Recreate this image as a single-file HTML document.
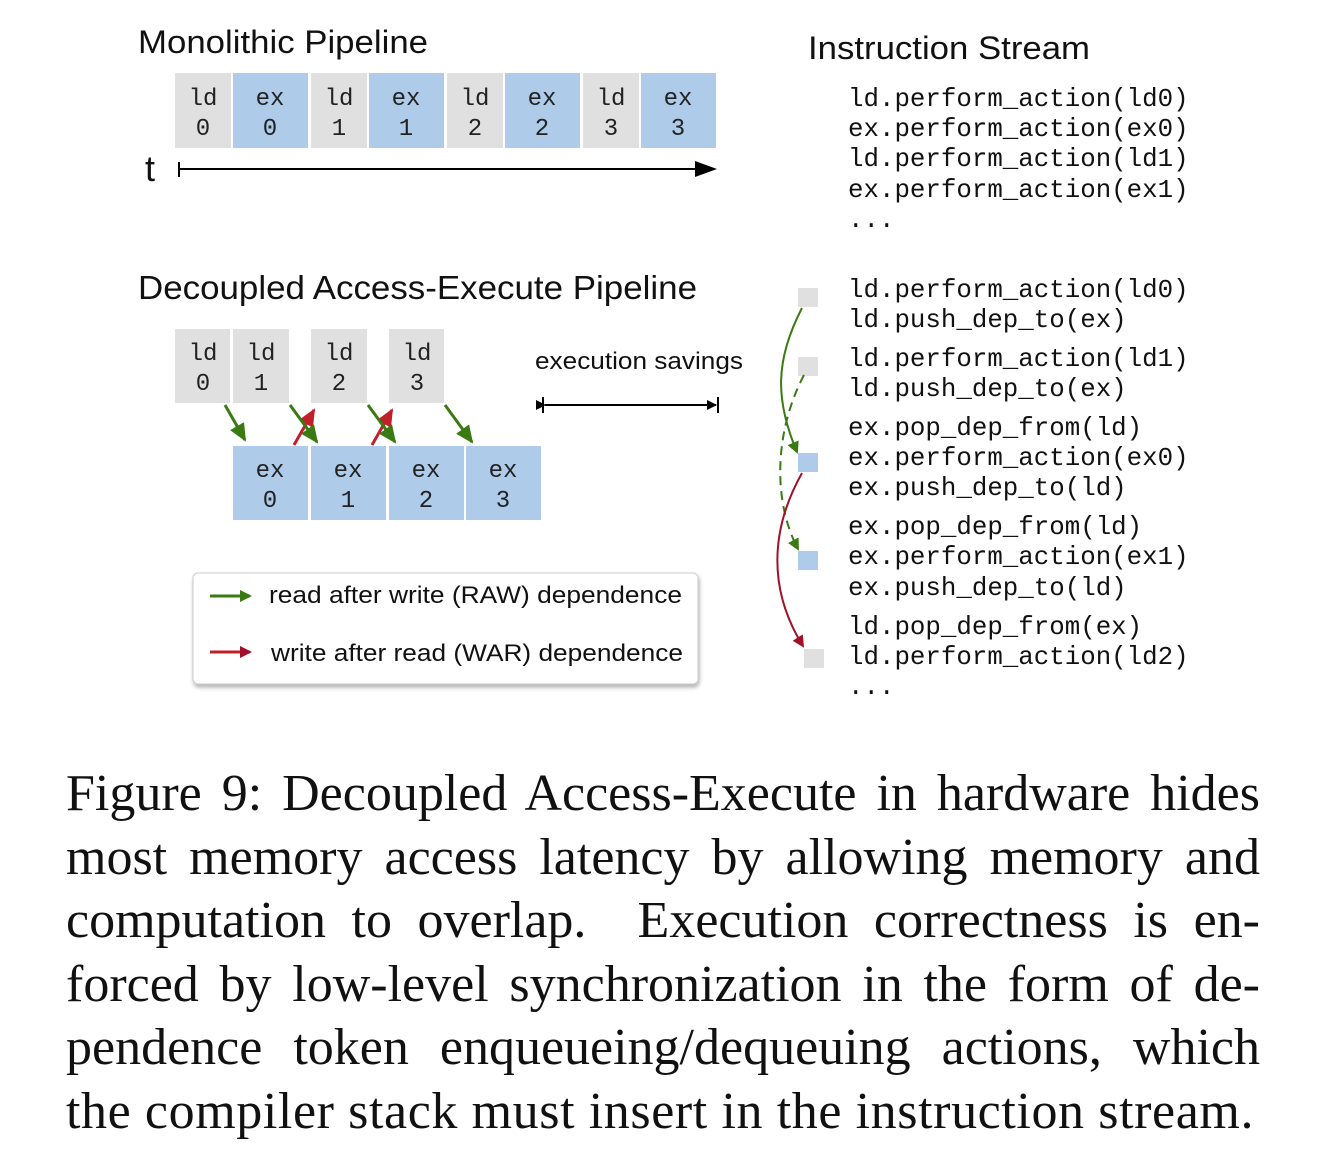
<!DOCTYPE html>
<html><head><meta charset="utf-8"><style>
body{margin:0;background:#fff;width:1328px;height:1152px;overflow:hidden}
svg{position:absolute;left:0;top:0}
.cap{position:absolute;left:66px;width:1194px;top:762px;font-family:"Liberation Serif",serif;font-size:52px;line-height:63.5px;color:#111}
.cap div{text-align:justify;text-align-last:justify;white-space:nowrap}
.cap div.l{text-align-last:left;letter-spacing:0.6px}
</style></head><body>
<svg width="1328" height="1152" xmlns="http://www.w3.org/2000/svg">
<defs>
<marker id="ab" markerWidth="10" markerHeight="10" refX="9" refY="5" orient="auto" markerUnits="userSpaceOnUse"><path d="M0,0 L10,5 L0,10z" fill="#000"/></marker>
<marker id="ag" markerWidth="18" markerHeight="16" refX="16" refY="8" orient="auto" markerUnits="userSpaceOnUse"><path d="M0,0 L18,8 L0,16z" fill="#3a7a12"/></marker>
<marker id="ar" markerWidth="18" markerHeight="16" refX="16" refY="8" orient="auto" markerUnits="userSpaceOnUse"><path d="M0,0 L18,8 L0,16z" fill="#c0202a"/></marker>
<marker id="ag2" markerWidth="12" markerHeight="12" refX="10" refY="6" orient="auto" markerUnits="userSpaceOnUse"><path d="M0,0 L12,6 L0,12z" fill="#3a7a12"/></marker>
<marker id="ar2" markerWidth="12" markerHeight="12" refX="10" refY="6" orient="auto" markerUnits="userSpaceOnUse"><path d="M0,0 L12,6 L0,12z" fill="#a01028"/></marker>
<filter id="sh" x="-5%" y="-10%" width="110%" height="130%"><feDropShadow dx="1" dy="3" stdDeviation="2" flood-color="#000" flood-opacity="0.3"/></filter>
</defs>
<g font-family="Liberation Sans, sans-serif" fill="#111">
<text x="138" y="53" font-size="32" textLength="290" lengthAdjust="spacingAndGlyphs">Monolithic Pipeline</text>
<text x="808" y="59" font-size="32" textLength="282" lengthAdjust="spacingAndGlyphs">Instruction Stream</text>
<text x="138" y="299" font-size="33" textLength="559" lengthAdjust="spacingAndGlyphs">Decoupled Access-Execute Pipeline</text>
<text x="535" y="369" font-size="24" textLength="208" lengthAdjust="spacingAndGlyphs">execution savings</text>
</g>
<g font-family="Liberation Mono, monospace" font-size="24" text-anchor="middle" fill="#222">
<rect x="175" y="73" width="56" height="75" fill="#e0e0e0"/><text x="203" y="105">ld</text><text x="203" y="135">0</text>
<rect x="233" y="73" width="75" height="75" fill="#aecbea"/><text x="270" y="105">ex</text><text x="270" y="135">0</text>
<rect x="311" y="73" width="56" height="75" fill="#e0e0e0"/><text x="339" y="105">ld</text><text x="339" y="135">1</text>
<rect x="369" y="73" width="75" height="75" fill="#aecbea"/><text x="406" y="105">ex</text><text x="406" y="135">1</text>
<rect x="447" y="73" width="56" height="75" fill="#e0e0e0"/><text x="475" y="105">ld</text><text x="475" y="135">2</text>
<rect x="505" y="73" width="75" height="75" fill="#aecbea"/><text x="542" y="105">ex</text><text x="542" y="135">2</text>
<rect x="583" y="73" width="56" height="75" fill="#e0e0e0"/><text x="611" y="105">ld</text><text x="611" y="135">3</text>
<rect x="641" y="73" width="75" height="75" fill="#aecbea"/><text x="678" y="105">ex</text><text x="678" y="135">3</text>

<rect x="175" y="329" width="55" height="74" fill="#e0e0e0"/><text x="203" y="360">ld</text><text x="203" y="390">0</text>
<rect x="233" y="329" width="56" height="74" fill="#e0e0e0"/><text x="261" y="360">ld</text><text x="261" y="390">1</text>
<rect x="311" y="329" width="56" height="74" fill="#e0e0e0"/><text x="339" y="360">ld</text><text x="339" y="390">2</text>
<rect x="389" y="329" width="55" height="74" fill="#e0e0e0"/><text x="417" y="360">ld</text><text x="417" y="390">3</text>
<rect x="233" y="446" width="75" height="74" fill="#aecbea"/><text x="270" y="477">ex</text><text x="270" y="507">0</text>
<rect x="311" y="446" width="75" height="74" fill="#aecbea"/><text x="348" y="477">ex</text><text x="348" y="507">1</text>
<rect x="389" y="446" width="75" height="74" fill="#aecbea"/><text x="426" y="477">ex</text><text x="426" y="507">2</text>
<rect x="466" y="446" width="75" height="74" fill="#aecbea"/><text x="503" y="477">ex</text><text x="503" y="507">3</text>
</g>
<text x="145" y="181" font-family="Liberation Sans, sans-serif" font-size="36" fill="#111">t</text>
<line x1="179" y1="162" x2="179" y2="177" stroke="#000" stroke-width="2"/>
<line x1="179" y1="169" x2="700" y2="169" stroke="#000" stroke-width="2"/>
<path d="M695,161 L717,169 L695,177z" fill="#000"/>
<line x1="543" y1="397" x2="543" y2="413" stroke="#000" stroke-width="2"/>
<line x1="718" y1="397" x2="718" y2="413" stroke="#000" stroke-width="2"/>
<line x1="545" y1="405" x2="716" y2="405" stroke="#000" stroke-width="2" marker-start="url(#ab)" marker-end="url(#ab)"/>
<g stroke-width="3">
<line x1="225" y1="405" x2="245" y2="440" stroke="#3a7a12" marker-end="url(#ag)"/>
<line x1="294" y1="445" x2="314" y2="410" stroke="#c0202a" marker-end="url(#ar)"/>
<line x1="290" y1="405" x2="317" y2="442" stroke="#3a7a12" marker-end="url(#ag)"/>
<line x1="372" y1="445" x2="392" y2="410" stroke="#c0202a" marker-end="url(#ar)"/>
<line x1="368" y1="405" x2="395" y2="442" stroke="#3a7a12" marker-end="url(#ag)"/>
<line x1="445" y1="405" x2="472" y2="442" stroke="#3a7a12" marker-end="url(#ag)"/>
</g>
<rect x="193" y="573" width="505" height="111" rx="5" fill="#fff" stroke="#ccc" filter="url(#sh)"/>
<line x1="210" y1="596" x2="250" y2="596" stroke="#3a7a12" stroke-width="3" marker-end="url(#ag2)"/>
<line x1="210" y1="652" x2="250" y2="652" stroke="#c0202a" stroke-width="3" marker-end="url(#ar2)"/>
<g font-family="Liberation Sans, sans-serif" font-size="24" fill="#111">
<text x="269" y="603" textLength="413" lengthAdjust="spacingAndGlyphs">read after write  (RAW) dependence</text>
<text x="271" y="661" textLength="412" lengthAdjust="spacingAndGlyphs">write after read  (WAR) dependence</text>
</g>
<rect x="798" y="288" width="20" height="19" fill="#e0e0e0"/>
<rect x="798" y="357" width="20" height="19" fill="#e0e0e0"/>
<rect x="798" y="453" width="20" height="19" fill="#aecbea"/>
<rect x="798" y="551" width="20" height="19" fill="#aecbea"/>
<rect x="804" y="649" width="20" height="19" fill="#e0e0e0"/>
<path d="M802,308 C775,360 775,400 797,452" fill="none" stroke="#3a7a12" stroke-width="2" marker-end="url(#ag2)"/>
<path d="M804,375 C775,430 772,500 798,549" fill="none" stroke="#3a7a12" stroke-width="2" stroke-dasharray="9,6" marker-end="url(#ag2)"/>
<path d="M802,473 C770,530 768,590 803,646" fill="none" stroke="#a01028" stroke-width="2" marker-end="url(#ar2)"/>
<g font-family="Liberation Mono, monospace" font-size="25.8" fill="#111">
<text x="848" y="106">ld.perform_action(ld0)</text>
<text x="848" y="136">ex.perform_action(ex0)</text>
<text x="848" y="166">ld.perform_action(ld1)</text>
<text x="848" y="197">ex.perform_action(ex1)</text>
<text x="848" y="227">...</text>
<text x="848" y="297">ld.perform_action(ld0)</text>
<text x="848" y="327">ld.push_dep_to(ex)</text>
<text x="848" y="366">ld.perform_action(ld1)</text>
<text x="848" y="396">ld.push_dep_to(ex)</text>
<text x="848" y="435">ex.pop_dep_from(ld)</text>
<text x="848" y="465">ex.perform_action(ex0)</text>
<text x="848" y="495">ex.push_dep_to(ld)</text>
<text x="848" y="534">ex.pop_dep_from(ld)</text>
<text x="848" y="564">ex.perform_action(ex1)</text>
<text x="848" y="595">ex.push_dep_to(ld)</text>
<text x="848" y="634">ld.pop_dep_from(ex)</text>
<text x="848" y="664">ld.perform_action(ld2)</text>
<text x="848" y="694">...</text>
</g>
</svg>
<div class="cap">
<div>Figure 9: Decoupled Access-Execute in hardware hides</div>
<div>most memory access latency by allowing memory and</div>
<div>computation to overlap. &nbsp;Execution correctness is en-</div>
<div>forced by low-level synchronization in the form of de-</div>
<div>pendence token enqueueing/dequeuing actions, which</div>
<div class="l">the compiler stack must insert in the instruction stream.</div>
</div>
</body></html>
